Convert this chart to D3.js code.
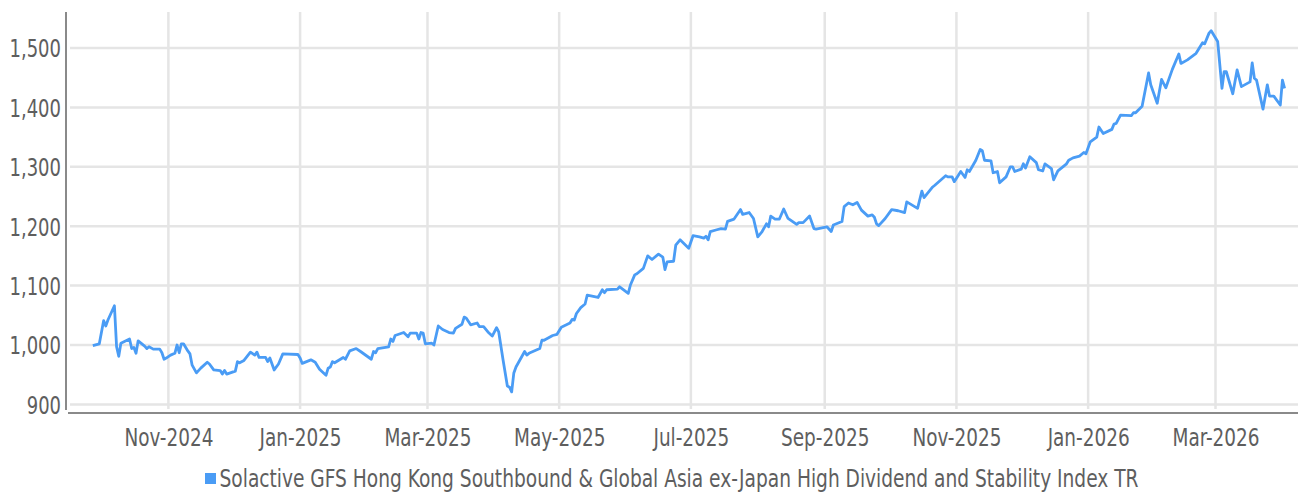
<!DOCTYPE html>
<html>
<head>
<meta charset="utf-8">
<script src="https://cdn.jsdelivr.net/npm/d3@7"></script>
<style>
  html, body { margin: 0; padding: 0; background: #fff; }
  svg { display: block; }
  text { font-family: "DejaVu Sans Condensed", "Liberation Sans Narrow", "Roboto", sans-serif; }
</style>
</head>
<body>
<svg id="chart" width="1298" height="494"></svg>
<script>
// ---------------- data ----------------
const startDate = "2024-09-26";
const seriesName = "Solactive GFS Hong Kong Southbound & Global Asia ex-Japan High Dividend and Stability Index TR";
const dayOffsets = [
  1,4,6,7,8,11,12,13,14,18,19,20,21,22,25,26,27,29,32,33,34,35,37,39,40,41,42,43,45,46,47,49,51,54,55,57,60,61,62,63,67,68,69,71,74,76,77,78,81,82,83,85,87,89,96,97,
  98,102,104,106,109,110,111,112,113,117,118,120,123,125,130,131,132,133,138,139,140,141,145,147,148,151,152,153,154,155,158,159,161,163,166,168,169,172,173,174,176,179,180,182,184,186,188,189,191,193,194,195,196,197,201,202,203,208,209,210,
  214,216,218,222,223,224,225,227,229,230,235,237,238,239,244,245,249,250,252,253,256,258,260,263,265,266,267,270,271,273,277,279,282,
  284,285,286,287,290,292,294,295,298,301,302,305,307,309,311,313,314,315,317,319,321,323,327,328,330,333,335,336,341,343,344,348,349,351,353,355,
  357,360,362,363,364,365,368,371,374,377,378,383,385,386,390,391,396,397,399,400,403,405,406,407,410,412,413,414,417,418,420,421,424,426,427,428,431,432,433,435,438,439,441,442,445,446,448,450,452,453,455,458,460,461,
  463,466,467,469,473,474,475,477,482,483,484,487,490,491,494,496,498,501,504,505,508,512,515,516,518,519,522,524,525,526,529,531,533,537,538,539,540,543,545,546,548,551,552,553
];
const indexValues = [
  999,1002,1041,1032,1042,1066,997,981,1003,1010,994,996,986,1007,998,994,997,993,993,987,976,978,983,986,1000,987,1002,1002,990,985,966,953,961,971,968,958,957,951,957,951,956,972,970,974,988,983,988,979,979,972,978,958,968,985,984,978,
  969,975,971,959,949,961,963,972,970,979,976,990,994,989,976,989,987,994,997,1010,1006,1016,1021,1014,1020,1020,1010,1021,1020,1002,1003,1000,1032,1026,1021,1020,1028,1035,1047,1045,1034,1037,1031,1031,1022,1015,1029,1022,975,931,929,921,953,963,989,983,986,994,1008,1008,
  1016,1018,1030,1037,1043,1042,1053,1063,1069,1084,1080,1093,1088,1093,1094,1098,1087,1101,1118,1120,1129,1150,1144,1153,1148,1127,1140,1141,1168,1177,1163,1184,1182,
  1180,1183,1177,1191,1194,1196,1195,1208,1212,1228,1220,1223,1213,1182,1191,1204,1199,1217,1212,1212,1229,1213,1203,1206,1206,1217,1196,1195,1199,1191,1202,1208,1233,1239,1236,1240,
  1227,1217,1219,1215,1204,1201,1213,1228,1226,1223,1241,1230,1259,1248,1266,1269,1285,1283,1283,1275,1292,1282,1295,1292,1311,1329,1327,1311,1310,1290,1292,1273,1283,1300,1300,1292,1296,1305,1298,1317,1307,1295,1293,1305,1297,1278,1293,1299,1305,1311,1315,1318,1324,1322,
  1342,1350,1367,1356,1363,1372,1373,1387,1386,1391,1391,1402,1458,1438,1407,1447,1433,1464,1490,1474,1480,1491,1509,1507,1525,1529,1511,1432,1460,1460,1423,1463,1435,1443,1475,1449,1446,1397,1438,1419,1419,1404,1446,1432
];
const yTickValues = [900, 1000, 1100, 1200, 1300, 1400, 1500];
const xTickStart = "2024-11-01";
const xTickEnd = "2026-04-01";

// ---------------- layout ----------------
const W = 1298, H = 494;
const plot = { left: 68, right: 1298, top: 12, bottom: 413 };
const lineColor = "#4a9cf5";
const gridColor = "#e5e5e5";
const axisColor = "#8a8a8a";
const textColor = "#5e5e5e";

const parse = d3.timeParse("%Y-%m-%d");
const t0 = parse(startDate);
const data = dayOffsets.map((k, i) => ({ date: d3.timeDay.offset(t0, k), value: indexValues[i] }));

const x = d3.scaleTime()
  .domain([new Date(2024, 8, 15, 12), new Date(2026, 3, 8, 5)])
  .range([plot.left, plot.right]);
const y = d3.scaleLinear()
  .domain([885.5, 1560.6])
  .range([plot.bottom, plot.top]);

const svg = d3.select("#chart");

function condense(sel, factor) {
  sel.each(function () {
    const w = this.getComputedTextLength();
    d3.select(this).attr("textLength", (w * factor).toFixed(1)).attr("lengthAdjust", "spacingAndGlyphs");
  });
}

// horizontal grid
const xTicks = d3.timeMonth.every(2).range(parse(xTickStart), parse(xTickEnd));
svg.append("g")
  .selectAll("line")
  .data(yTickValues)
  .join("line")
  .attr("x1", plot.left + 2).attr("x2", plot.right)
  .attr("y1", d => y(d)).attr("y2", d => y(d))
  .attr("stroke", gridColor).attr("stroke-width", 2.5);

// vertical grid
svg.append("g")
  .selectAll("line")
  .data(xTicks)
  .join("line")
  .attr("x1", d => x(d)).attr("x2", d => x(d))
  .attr("y1", plot.top).attr("y2", plot.bottom - 4)
  .attr("stroke", gridColor).attr("stroke-width", 2.5);

// axes lines
svg.append("line")
  .attr("x1", plot.left - 2).attr("x2", plot.left - 2)
  .attr("y1", plot.top).attr("y2", plot.bottom - 3)
  .attr("stroke", axisColor).attr("stroke-width", 2);
svg.append("line")
  .attr("x1", plot.left).attr("x2", plot.right)
  .attr("y1", plot.bottom).attr("y2", plot.bottom)
  .attr("stroke", axisColor).attr("stroke-width", 2);

// y axis labels
const yAxis = d3.axisLeft(y).tickValues(yTickValues).tickFormat(d3.format(",")).tickSize(0).tickPadding(0);
const gy = svg.append("g").attr("transform", `translate(${plot.left - 7},0)`).call(yAxis);
gy.select(".domain").remove();
gy.selectAll("text")
  .attr("font-size", 25)
  .attr("fill", textColor)
  .attr("dy", "0.36em")
  .style("font-family", '"DejaVu Sans Condensed", "Liberation Sans Narrow", sans-serif')
  .call(condense, 0.8);

// x axis labels
const xAxis = d3.axisBottom(x).tickValues(xTicks).tickFormat(d3.timeFormat("%b-%Y")).tickSize(0).tickPadding(0);
const gx = svg.append("g").attr("transform", `translate(0,${plot.bottom})`).call(xAxis);
gx.select(".domain").remove();
gx.selectAll("text")
  .attr("font-size", 25)
  .attr("fill", textColor)
  .attr("dy", 0)
  .attr("y", 33)
  .style("font-family", '"DejaVu Sans Condensed", "Liberation Sans Narrow", sans-serif')
  .call(condense, 0.82);

// line
const line = d3.line().x(d => x(d.date)).y(d => y(d.value)).curve(d3.curveLinear);
svg.append("path")
  .datum(data)
  .attr("d", line)
  .attr("fill", "none")
  .attr("stroke", lineColor)
  .attr("stroke-width", 2.8)
  .attr("stroke-linejoin", "round");

// legend
const lg = svg.append("g").attr("transform", "translate(205,473)");
lg.append("rect").attr("width", 11).attr("height", 11).attr("fill", lineColor);
lg.append("text")
  .attr("x", 14.5).attr("y", 14)
  .attr("font-size", 24)
  .attr("fill", textColor)
  .text(seriesName)
  .call(condense, 0.862);
</script>
</body>
</html>
